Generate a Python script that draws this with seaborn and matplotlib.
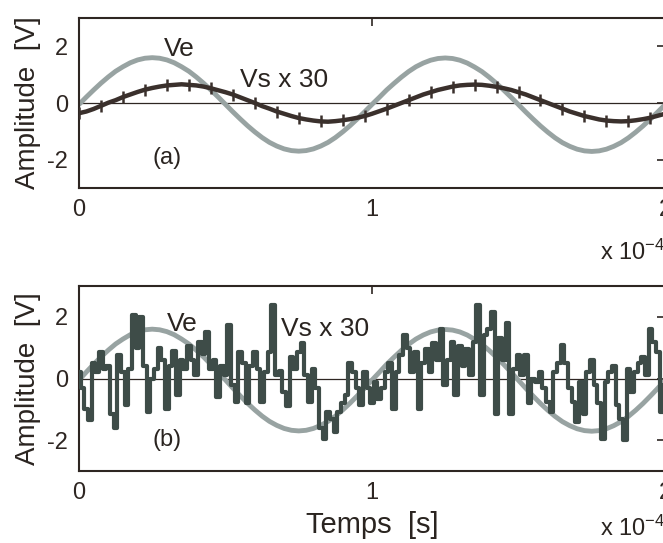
import matplotlib
matplotlib.use('Agg')
import matplotlib.pyplot as plt
import seaborn as sns
import numpy as np
from matplotlib.ticker import FuncFormatter

# values (time in units of 1e-4 s, amplitudes in V)
ve = [-0.05, 0.21, 0.46, 0.70, 0.92, 1.12, 1.28, 1.42, 1.52, 1.58,
      1.60, 1.58, 1.52, 1.42, 1.28, 1.12, 0.92, 0.70, 0.46, 0.21,
      -0.05, -0.31, -0.56, -0.80, -1.02, -1.22, -1.39, -1.52, -1.62, -1.68,
      -1.70, -1.68, -1.62, -1.52, -1.39, -1.22, -1.02, -0.80, -0.56, -0.31,
      -0.05, 0.20, 0.46, 0.69, 0.91, 1.11, 1.28, 1.41, 1.51, 1.57,
      1.59, 1.57, 1.51, 1.41, 1.27, 1.11, 0.91, 0.69, 0.45, 0.20,
      -0.06, -0.32, -0.57, -0.81, -1.03, -1.23, -1.40, -1.53, -1.63, -1.69,
      -1.71, -1.69, -1.63, -1.53, -1.40, -1.23, -1.03, -0.81, -0.57, -0.32,
      -0.06]

vs_a = [-0.36, -0.30, -0.21, -0.10, 0.01, 0.10, 0.21, 0.30, 0.39, 0.47,
        0.53, 0.58, 0.62, 0.64, 0.66, 0.64, 0.62, 0.58, 0.52, 0.45,
        0.38, 0.30, 0.20, 0.10, 0.00, -0.11, -0.20, -0.30, -0.38, -0.46,
        -0.53, -0.58, -0.62, -0.65, -0.66, -0.64, -0.61, -0.57, -0.52, -0.46,
        -0.38, -0.29, -0.20, -0.10, 0.00, 0.10, 0.20, 0.30, 0.38, 0.46,
        0.52, 0.58, 0.62, 0.64, 0.65, 0.64, 0.61, 0.57, 0.52, 0.46,
        0.38, 0.30, 0.20, 0.10, 0.00, -0.10, -0.20, -0.30, -0.38, -0.46,
        -0.52, -0.58, -0.62, -0.64, -0.65, -0.64, -0.61, -0.57, -0.52, -0.45,
        -0.38]

vs_b = [0.2, -0.3, -1.0, -1.35, 0.5, 0.2, 0.85, 0.3, 0.4, -1.15,
        -1.6, 0.75, 0.2, -0.87, 0.3, 2.05, 1.0, 2.0, 0.4, -1.1,
        0.0, 0.3, 1.0, 0.6, -1.0, 0.4, 0.9, -0.55, 0.6, 0.3,
        1.05, 0.6, 0.1, 1.2, 0.8, 1.5, 0.3, 0.6, -0.6, 0.4,
        0.1, 1.75, -0.2, -0.75, 0.85, 0.5, -0.8, 0.4, 0.85, 0.3,
        -0.75, 0.2, 0.85, 2.4, 0.1, 0.25, -0.45, -0.9, 0.7, 0.3,
        0.85, 1.15, 0.1, -0.75, 0.3, -0.3, -1.6, -1.95, -1.1, -1.3,
        -1.75, -1.1, -0.8, -0.55, 0.5, 0.2, -0.3, -0.87, 0.2, -0.3,
        -0.8, -0.1, -0.65, -0.3, 0.2, 0.5, -1.0, 0.2, 0.75, 1.4,
        1.0, 0.2, 0.85, -1.0, 0.5, 0.95, 0.2, 1.15, 0.6, 1.6,
        -0.2, 0.6, 1.2, -0.55, 1.05, 0.4, 0.95, 0.1, 1.2, 2.4,
        -0.55, 1.4, 1.6, 2.15, -1.15, 1.3, 0.6, 1.8, -1.15, 0.3,
        0.75, 0.1, 0.75, -0.8, 0.0, -0.1, 0.2, -0.3, -0.75, -1.1,
        0.2, 0.5, 1.1, 0.5, -0.3, -0.75, -1.4, -0.1, -1.15, 0.2,
        0.6, -0.2, -0.8, -1.95, -0.1, 0.2, 0.4, -0.87, -1.3, -2.0,
        0.3, -0.45, 0.2, 0.5, 0.7, 0.1, 1.6, 1.2, 0.85, -1.1,
        -0.2]

t_smooth = np.linspace(0, 2e-4, len(ve))
t_noisy = np.linspace(0, 2e-4, len(vs_b))

sns.set_theme(style='white')
plt.rcParams['font.family'] = ['Liberation Sans', 'DejaVu Sans']
plt.rcParams['mathtext.default'] = 'regular'
plt.rcParams['axes.unicode_minus'] = False

ve_col = '#98a3a2'
dark = '#3a302c'
noisy_col = '#3e4c48'
spine_col = '#2e2622'
txt_col = '#2a2420'

fig = plt.figure(figsize=(6.63, 5.43), dpi=100)
ax1 = fig.add_axes([79 / 663, 1 - 188 / 543, 586 / 663, 170 / 543])
ax2 = fig.add_axes([79 / 663, 1 - 471 / 543, 586 / 663, 185 / 543])

# (a)
ax1.axhline(0, color=spine_col, lw=0.9, zorder=1)
sns.lineplot(x=t_smooth, y=ve, ax=ax1, color=ve_col, linewidth=3.5, zorder=2)
sns.lineplot(x=t_smooth, y=vs_a, ax=ax1, color=dark, linewidth=3.2,
             marker='|', markersize=9, markeredgewidth=1.8, markevery=3,
             markeredgecolor=dark, zorder=3)
ax1.text(0.29e-4, 1.9, 'Ve', fontsize=19, va='center', color=txt_col)
ax1.text(0.55e-4, 0.8, 'Vs x 30', fontsize=19, va='center', color=txt_col)
ax1.text(0.25e-4, -1.95, '(a)', fontsize=17, va='center', color=txt_col)

# (b)
ax2.axhline(0, color=spine_col, lw=0.9, zorder=1)
sns.lineplot(x=t_smooth, y=ve, ax=ax2, color=ve_col, linewidth=3.5, zorder=2)
sns.lineplot(x=t_noisy, y=vs_b, ax=ax2, color=noisy_col, linewidth=3,
             drawstyle='steps-mid', zorder=3)
ax2.text(0.30e-4, 1.77, 'Ve', fontsize=19, va='center', color=txt_col)
ax2.text(0.69e-4, 1.6, 'Vs x 30', fontsize=19, va='center', color=txt_col)
ax2.text(0.25e-4, -2.0, '(b)', fontsize=17, va='center', color=txt_col)
ax2.set_xlabel('Temps  [s]', fontsize=21, color=txt_col, labelpad=5)

for ax in (ax1, ax2):
    ax.set_xlim(0, 2e-4)
    ax.set_ylim(-3, 3)
    ax.set_xticks([0, 1e-4, 2e-4])
    ax.set_yticks([-2, 0, 2])
    ax.xaxis.set_major_formatter(FuncFormatter(lambda v, p: f'{v * 1e4:g}'))
    ax.tick_params(direction='in', top=True, right=True, length=6, width=1.2,
                   labelsize=17, colors=spine_col, pad=8)
    ax.set_ylabel('Amplitude  [V]', fontsize=20, color=txt_col, labelpad=4)
    for s in ax.spines.values():
        s.set_color(spine_col)
        s.set_linewidth(1.5)

fig.text(600 / 663, 1 - 252 / 543, r'x 10$^{-4}$', fontsize=17,
         va='center', color=txt_col)
fig.text(600 / 663, 1 - 528 / 543, r'x 10$^{-4}$', fontsize=17,
         va='center', color=txt_col)

fig.savefig('out.png', dpi=100)
